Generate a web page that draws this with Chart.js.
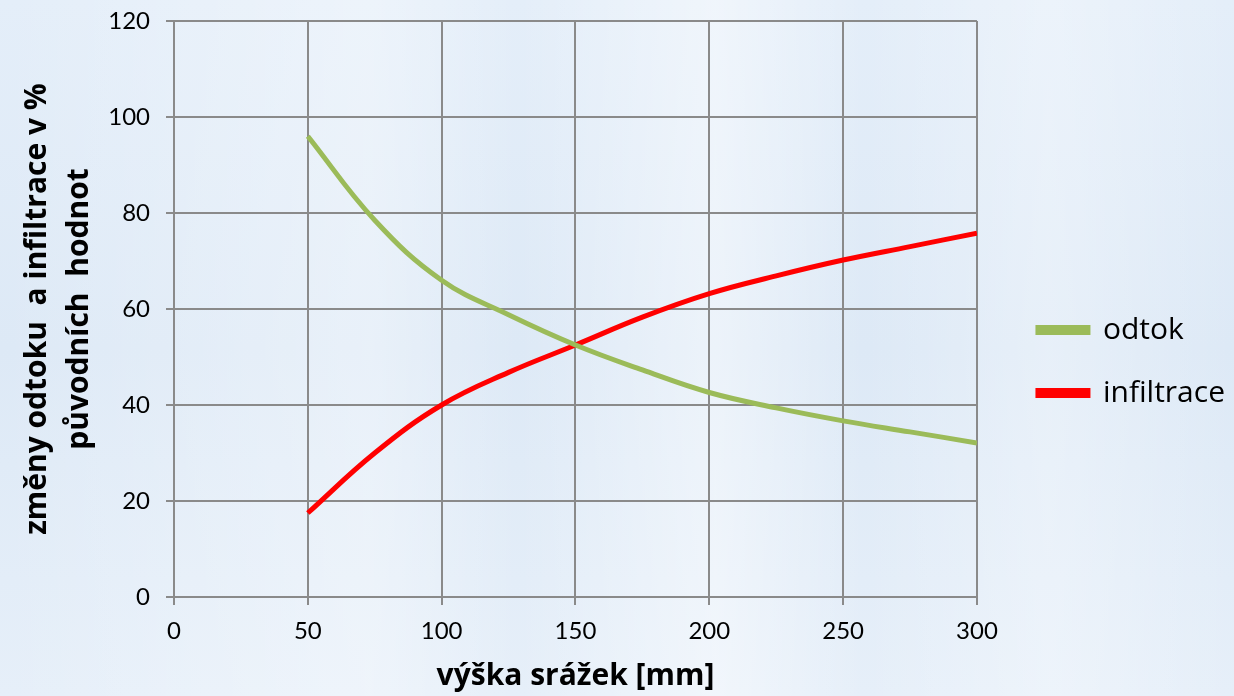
<!DOCTYPE html>
<html>
<head>
<meta charset="utf-8">
<script src="https://cdn.jsdelivr.net/npm/chart.js@4.4.1/dist/chart.umd.min.js"></script>
<style>
  html, body { margin: 0; padding: 0; }
  body {
    width: 1234px; height: 696px; overflow: hidden;
    background:
      linear-gradient(90deg, rgba(255,255,255,0) 0%, rgba(255,255,255,0.35) 30%, rgba(255,255,255,0) 42%, rgba(255,255,255,0.45) 58%, rgba(255,255,255,0) 70%, rgba(255,255,255,0.3) 85%, rgba(255,255,255,0) 100%),
      linear-gradient(180deg, #e4eef9 0%, #dde9f6 50%, #e6eff9 100%);
  }
  canvas { display: block; }
</style>
</head>
<body>
<canvas id="chart" width="1234" height="696"></canvas>
<script>
/* --------------- Data --------------------- */
const rainfall = [50, 75, 100, 125, 150, 175, 200, 225, 250, 275, 300];
const odtok = [96, 78.5, 66, 58.8, 52.5, 47.3, 42.6, 39.4, 36.7, 34.4, 32.1];
const infiltrace = [17.5, 30, 40, 46.8, 52.5, 58.3, 63.2, 66.9, 70.2, 73, 75.8];
const seriesNames = ["odtok", "infiltrace"];
const xTitle = "výška srážek [mm]";
const yTitle = ["změny odtoku  a infiltrace v %", "původních  hodnot"];

const gridColor = "#8a8a8a";

const toPoints = (vals) => rainfall.map((x, i) => ({ x: x, y: vals[i] }));

/* --------------- move the legend closer to the right edge --------------------- */
const legendShift = {
  id: "legendShift",
  afterLayout(chart) {
    const lg = chart.legend;
    lg.left += 28;
    lg.right += 28;
    lg.top += 3;
    lg.bottom += 3;
  },
};

new Chart(document.getElementById("chart"), {
  type: "line",
  plugins: [legendShift],
  data: {
    datasets: [
      { label: seriesNames[0], data: toPoints(odtok), borderColor: "#9bbb59", backgroundColor: "#9bbb59", borderWidth: 5, pointRadius: 0, tension: 0.4 },
      { label: seriesNames[1], data: toPoints(infiltrace), borderColor: "#ff0000", backgroundColor: "#ff0000", borderWidth: 5, pointRadius: 0, tension: 0.4 },
    ],
  },
  options: {
    responsive: false,
    animation: false,
    layout: { padding: { top: 21, right: 27, left: 0, bottom: 0 } },
    plugins: {
      tooltip: { enabled: false },
      legend: {
        position: "right",
        align: "center",
        labels: {
          boxWidth: 50,
          boxHeight: 5,
          padding: 33,
          color: "#000",
          font: { family: "Open Sans", size: 30 },
        },
      },
    },
    scales: {
      x: {
        type: "linear",
        min: 0,
        max: 300,
        afterFit: (scale) => { scale.height = 99; },
        ticks: { stepSize: 50, padding: 12, color: "#000", font: { family: "Lato", size: 24 } },
        grid: { color: gridColor, lineWidth: 2, tickLength: 8, tickColor: gridColor },
        border: { color: gridColor, width: 2 },
        title: { display: true, text: xTitle, color: "#000", font: { family: "Open Sans", size: 30, weight: "bold" }, padding: { top: 0, bottom: 2 } },
      },
      y: {
        min: 0,
        max: 120,
        afterFit: (scale) => {
          scale.width = 174;
          scale.paddingTop = 0;
          scale.paddingBottom = 0;
        },
        ticks: { stepSize: 20, padding: 16, color: "#000", font: { family: "Lato", size: 24 } },
        grid: { color: gridColor, lineWidth: 2, tickLength: 8, tickColor: gridColor },
        border: { color: gridColor, width: 2 },
        title: { display: true, text: yTitle, color: "#000", font: { family: "Open Sans", size: 30, weight: "bold", lineHeight: 1.4 }, padding: { top: 16, bottom: 0 } },
      },
    },
  },
});
</script>
</body>
</html>
